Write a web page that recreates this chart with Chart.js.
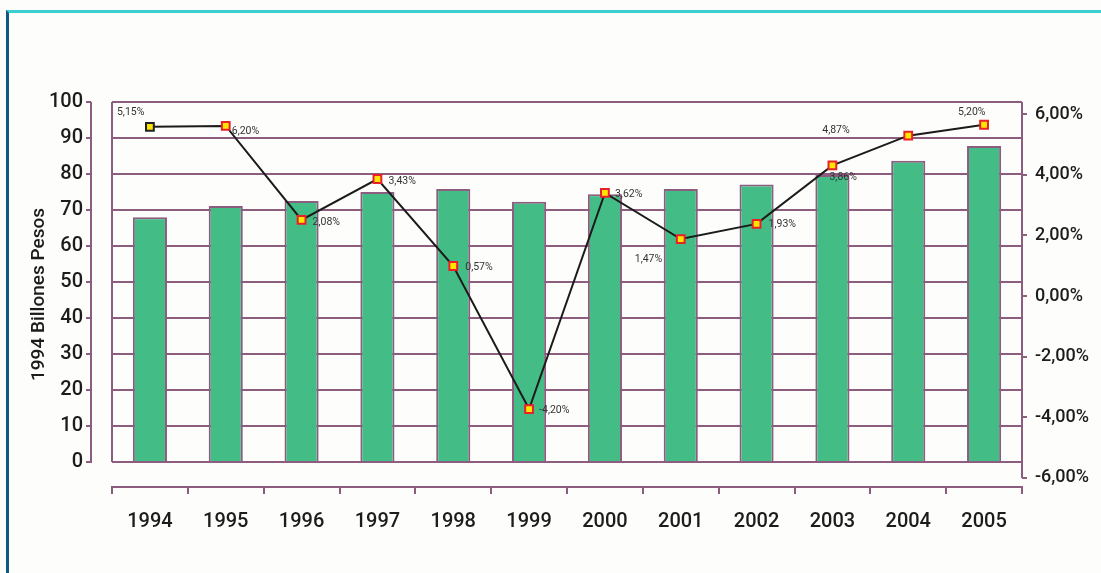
<!DOCTYPE html>
<html>
<head>
<meta charset="utf-8">
<script src="https://cdn.jsdelivr.net/npm/chart.js@4/dist/chart.umd.min.js"></script>
<style>
    html, body { margin: 0; padding: 0; background: #fdfdfb; }
    #wrap { position: relative; width: 1101px; height: 573px; overflow: hidden; }
    #frame {
        position: absolute; left: 6px; top: 10px; width: 1095px; height: 563px;
        border-top: 3px solid #3ccfd0; border-left: 3px solid #0e5a80; box-sizing: border-box;
    }
    #chart { position: absolute; left: 0; top: 0; }
</style>
</head>
<body>
<div id="wrap">
    <div id="frame"></div>
    <canvas id="chart" width="1101" height="573"></canvas>
</div>
<script>
const years = ['1994', '1995', '1996', '1997', '1998', '1999', '2000', '2001', '2002', '2003', '2004', '2005'];
const gdpBillions = [68, 71.1, 72.5, 75, 75.8, 72.3, 74.4, 75.8, 77.1, 79.7, 83.7, 87.8];
const growthRate = [5.58, 5.61, 2.51, 3.86, 0.99, -3.73, 3.40, 1.88, 2.38, 4.31, 5.29, 5.65];
const growthLabels = ['5,15%', '6,20%', '2,08%', '3,43%', '0,57%', '-4,20%', '3,62%', '1,47%', '1,93%', '3,86%', '4,87%', '5,20%'];
const leftTicks = [0, 10, 20, 30, 40, 50, 60, 70, 80, 90, 100];
const rightTicks = [-6, -4, -2, 0, 2, 4, 6];
const rightTickLabels = ['-6,00%', '-4,00%', '-2,00%', '0,00%', '2,00%', '4,00%', '6,00%'];
const yTitle = '1994 Billones Pesos';

const MAUVE = '#8d5d80';
const INK = '#1c1c1c';
const FONT = "Roboto, 'Liberation Sans', sans-serif";

// label offsets from each point (left edge of text, vertical centre)
const labelOffsets = [
    [-33, -14], [6, 5], [11, 2], [11, 2], [12, 1], [10, 1],
    [10, 1], [-46, 20], [12, 1], [-3, 12], [-86, -5], [-26, -12]
];

const axisDecor = {
    id: 'axisDecor',
    beforeDatasetsDraw(chart) {
        const { ctx, chartArea, scales } = chart;
        const y = scales.y, y1 = scales.y1;
        const top = y.getPixelForValue(100), zero = y.getPixelForValue(0);
        const axisX = chartArea.left - 21;
        ctx.save();
        ctx.strokeStyle = MAUVE;
        ctx.lineWidth = 2;
        ctx.beginPath();
        // plot box left edge
        ctx.moveTo(chartArea.left, top);
        ctx.lineTo(chartArea.left, zero);
        // detached left axis
        ctx.moveTo(axisX, top);
        ctx.lineTo(axisX, zero + 1);
        leftTicks.forEach(v => {
            const py = y.getPixelForValue(v);
            ctx.moveTo(axisX - 5, py);
            ctx.lineTo(axisX, py);
        });
        // right axis line
        ctx.moveTo(chartArea.right, chartArea.top);
        ctx.lineTo(chartArea.right, y1.getPixelForValue(-6));
        ctx.stroke();
        ctx.restore();
    }
};

const pointLabels = {
    id: 'pointLabels',
    afterDatasetsDraw(chart) {
        const { ctx } = chart;
        const meta = chart.getDatasetMeta(1);
        ctx.save();
        ctx.font = `10.5px ${FONT}`;
        ctx.fillStyle = '#333333';
        ctx.textAlign = 'left';
        ctx.textBaseline = 'middle';
        meta.data.forEach((pt, i) => {
            const [dx, dy] = labelOffsets[i];
            ctx.fillText(growthLabels[i], pt.x + dx, pt.y + dy);
        });
        ctx.restore();
    }
};

const ctx = document.getElementById('chart').getContext('2d');
new Chart(ctx, {
    data: {
        labels: years,
        datasets: [{
            type: 'bar',
            data: gdpBillions,
            yAxisID: 'y',
            backgroundColor: '#43bd85',
            borderColor: MAUVE,
            borderWidth: 2,
            categoryPercentage: 1,
            barPercentage: 0.45,
            order: 1
        }, {
            type: 'line',
            data: growthRate,
            yAxisID: 'y1',
            borderColor: '#1b1b1b',
            borderWidth: 2,
            tension: 0,
            pointStyle: 'rect',
            pointRadius: 5.5,
            pointBorderWidth: 2,
            pointBackgroundColor: '#ffe600',
            pointBorderColor: growthRate.map((v, i) => i === 0 ? '#222222' : '#e8202a'),
            order: 0
        }]
    },
    options: {
        responsive: false,
        animation: false,
        layout: { padding: { top: 102, left: 0, right: 0, bottom: 0 } },
        plugins: {
            legend: { display: false },
            tooltip: { enabled: false }
        },
        scales: {
            x: {
                offset: true,
                grid: { offset: true, drawOnChartArea: false, drawTicks: true, tickLength: 7, color: MAUVE, lineWidth: 2 },
                border: { display: true, color: MAUVE, width: 2 },
                ticks: { color: INK, font: { family: FONT, size: 20, weight: '500' }, padding: 16, maxRotation: 0 },
                afterFit: s => { s.height = 86; }
            },
            y: {
                position: 'left',
                min: -6.94,
                max: 100,
                afterBuildTicks: s => { s.ticks = leftTicks.map(v => ({ value: v })); },
                grid: { drawTicks: false, color: MAUVE, lineWidth: 2 },
                border: { display: false },
                ticks: { color: INK, font: { family: FONT, size: 20, weight: '500' }, padding: 29 },
                title: {
                    display: true, text: yTitle, color: INK,
                    font: { family: FONT, size: 19, weight: '500' }, padding: { top: 28, bottom: 0 }
                },
                afterFit: s => { s.width = 112; }
            },
            y1: {
                position: 'right',
                min: -6.3,
                max: 6.4,
                afterBuildTicks: s => { s.ticks = rightTicks.map(v => ({ value: v })); },
                grid: { drawOnChartArea: false, drawTicks: true, tickLength: 5, color: MAUVE, lineWidth: 2 },
                border: { display: false },
                ticks: {
                    color: INK, font: { family: FONT, size: 18, weight: '500' }, padding: 8,
                    callback: v => rightTickLabels[rightTicks.indexOf(v)]
                },
                afterFit: s => { s.width = 79; }
            }
        }
    },
    plugins: [axisDecor, pointLabels]
});
</script>
</body>
</html>
